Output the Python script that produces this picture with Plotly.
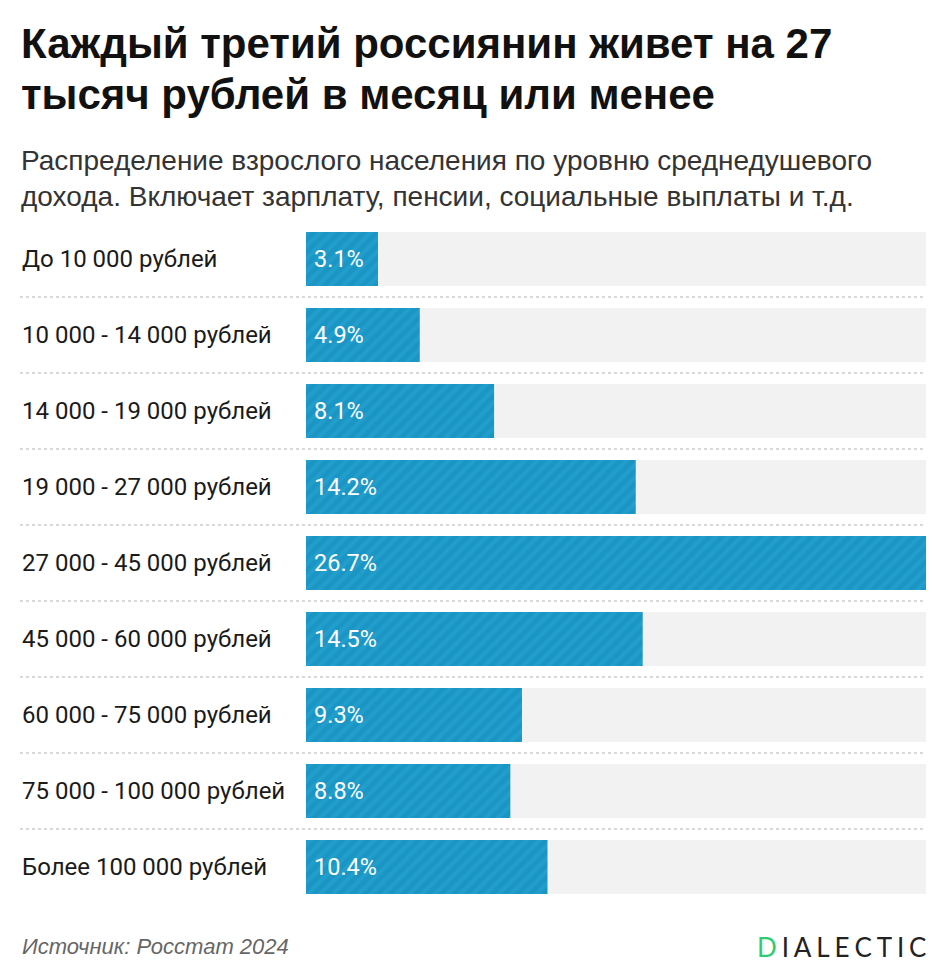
import plotly.graph_objects as go

categories = [
    "До 10 000 рублей",
    "10 000 - 14 000 рублей",
    "14 000 - 19 000 рублей",
    "19 000 - 27 000 рублей",
    "27 000 - 45 000 рублей",
    "45 000 - 60 000 рублей",
    "60 000 - 75 000 рублей",
    "75 000 - 100 000 рублей",
    "Более 100 000 рублей",
]
values = [3.1, 4.9, 8.1, 14.2, 26.7, 14.5, 9.3, 8.8, 10.4]
value_labels = ["3.1%", "4.9%", "8.1%", "14.2%", "26.7%", "14.5%", "9.3%", "8.8%", "10.4%"]

title_lines = ["Каждый третий россиянин живет на 27", "тысяч рублей в месяц или менее"]
subtitle_lines = [
    "Распределение взрослого населения по уровню среднедушевого",
    "дохода. Включает зарплату, пенсии, социальные выплаты и т.д.",
]
source_text = "Источник: Росстат 2024"

W, H = 948, 975
T, B = 221, 70
PH = H - T - B

def py(ypix):
    return (H - B - ypix) / PH

def px(xpix):
    return xpix / W

vmax = max(values)
idx = list(range(len(categories)))

fig = go.Figure()
fig.add_trace(go.Bar(
    y=idx, x=[vmax] * len(idx), orientation="h",
    marker=dict(color="#f2f2f2", line=dict(width=0)),
    hoverinfo="skip", showlegend=False,
))
fig.add_trace(go.Bar(
    y=idx, x=values, orientation="h",
    marker=dict(color="#1a95c4", line=dict(width=0),
                pattern=dict(shape="/", fgcolor="#2aa7d6", size=9, solidity=0.45)),
    showlegend=False,
))

annotations = []
for i, c in enumerate(categories):
    annotations.append(dict(
        x=px(20), xref="paper", y=i, yref="y", text=c, showarrow=False,
        xanchor="left", yanchor="middle",
        font=dict(family="Roboto", size=24, color="#1a1a1a"),
    ))
for i, v in enumerate(value_labels):
    annotations.append(dict(
        x=0, xref="x", y=i, yref="y", text=v, showarrow=False,
        xanchor="left", yanchor="middle", xshift=6,
        font=dict(family="Roboto", size=23.5, color="white"),
    ))

for j, line in enumerate(title_lines):
    annotations.append(dict(
        x=px(19), xref="paper", y=py(44 + 50 * j), yref="paper", text="<b>" + line + "</b>",
        showarrow=False, xanchor="left", yanchor="middle",
        font=dict(family="Liberation Sans", size=42, color="#111111"),
    ))
for j, line in enumerate(subtitle_lines):
    annotations.append(dict(
        x=px(19), xref="paper", y=py(161 + 36 * j), yref="paper", text=line,
        showarrow=False, xanchor="left", yanchor="middle",
        font=dict(family="Liberation Sans", size=28, color="#333333"),
    ))

annotations.append(dict(
    x=px(20), xref="paper", y=py(946), yref="paper", text="<i>" + source_text + "</i>",
    showarrow=False, xanchor="left", yanchor="middle",
    font=dict(family="Liberation Sans", size=22, color="#666666"),
))
hs = "\u2009\u200a"
logo = "<span style='color:#2ecc71'>D</span>" + hs + hs.join(list("IALECTIC"))
annotations.append(dict(
    x=px(928), xref="paper", y=py(947), yref="paper", text=logo,
    showarrow=False, xanchor="right", yanchor="middle",
    font=dict(family="Lato", size=26, color="#222222"),
))

shapes = []
for i in range(len(categories) - 1):
    shapes.append(dict(
        type="line", xref="paper", yref="y", x0=px(20), x1=px(926),
        y0=i + 0.5, y1=i + 0.5, line=dict(color="#cccccc", width=1.5, dash="dot"),
    ))

fig.update_layout(
    width=W, height=H, barmode="overlay", bargap=22 / 76,
    margin=dict(l=0, r=0, t=T, b=B, pad=0),
    paper_bgcolor="white", plot_bgcolor="white",
    xaxis=dict(domain=[px(306), px(926)], range=[0, vmax], visible=False, fixedrange=True),
    yaxis=dict(range=[len(categories) - 0.5, -0.5], visible=False, fixedrange=True),
    annotations=annotations, shapes=shapes,
)

fig.write_html("out.html", config={"displayModeBar": False},
               post_script="document.body.style.margin='0px';")
